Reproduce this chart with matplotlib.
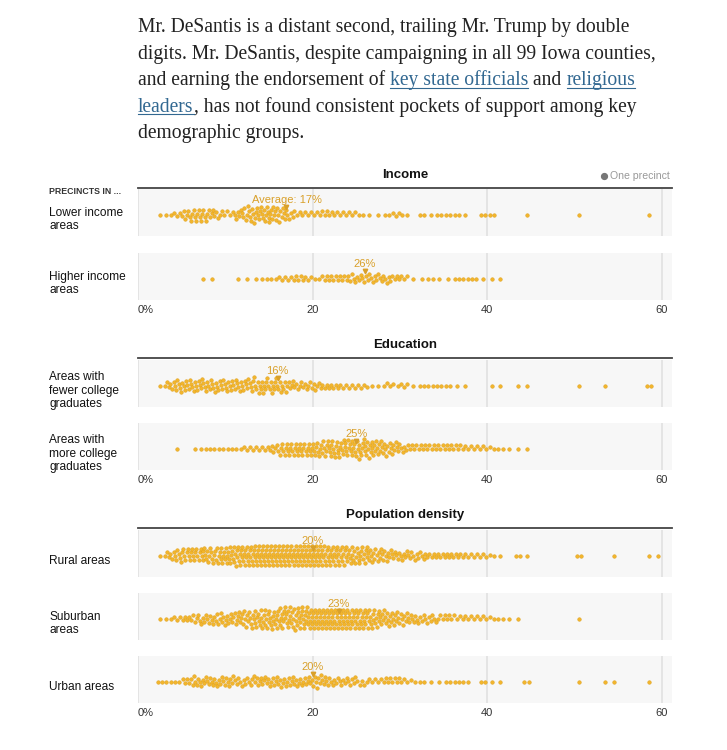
"""
DeSantis support by precinct, beeswarm per demographic group.
Each dot is one precinct; counts are per 1-point bin of DeSantis share.
"""

import matplotlib

matplotlib.use("Agg")
import matplotlib.pyplot as plt
import numpy as np
from matplotlib.lines import Line2D

W, H = 727, 750

# number of precincts in each 1% bin (index = floor of DeSantis share, 0..59)
lower_income_counts = [
    0, 0, 1, 2, 3, 6, 7, 7, 6, 4,
    3, 6, 8, 9, 9, 9, 8, 5, 3, 3,
    3, 4, 3, 3, 3, 2, 1, 1, 2, 3,
    2, 0, 2, 1, 2, 2, 2, 1, 0, 2,
    2, 0, 0, 0, 1, 0, 0, 0, 0, 0,
    1, 0, 0, 0, 0, 0, 0, 0, 1, 0]
higher_income_counts = [
    0, 0, 0, 0, 0, 0, 0, 1, 1, 0,
    0, 1, 1, 1, 2, 2, 3, 3, 4, 3,
    2, 4, 4, 4, 5, 5, 5, 5, 5, 4,
    3, 1, 1, 2, 1, 1, 2, 2, 2, 1,
    1, 1, 0, 0, 0, 0, 0, 0, 0, 0,
    0, 0, 0, 0, 0, 0, 0, 0, 0, 0]
fewer_college_counts = [
    0, 0, 1, 5, 7, 7, 7, 7, 7, 7,
    7, 7, 7, 8, 8, 8, 7, 6, 5, 5,
    5, 4, 4, 3, 3, 3, 2, 1, 3, 2,
    3, 1, 2, 2, 2, 2, 1, 1, 0, 0,
    1, 1, 0, 1, 1, 0, 0, 0, 0, 0,
    1, 0, 0, 1, 0, 0, 0, 0, 2, 0]
more_college_counts = [
    0, 0, 0, 0, 1, 0, 1, 2, 2, 2,
    2, 2, 3, 3, 3, 5, 7, 8, 8, 8,
    9, 9, 10, 10, 10, 10, 10, 9, 8, 7,
    5, 4, 4, 4, 4, 4, 4, 3, 3, 3,
    2, 2, 1, 1, 1, 0, 0, 0, 0, 0,
    0, 0, 0, 0, 0, 0, 0, 0, 0, 0]
rural_counts = [
    0, 0, 1, 5, 7, 8, 8, 9, 9, 10,
    11, 12, 12, 13, 13, 13, 13, 13, 13, 13,
    13, 12, 12, 11, 10, 10, 9, 8, 7, 6,
    6, 5, 5, 4, 4, 4, 4, 3, 3, 3,
    2, 1, 0, 2, 1, 0, 0, 0, 0, 0,
    2, 0, 0, 0, 1, 0, 0, 0, 1, 1]
suburban_counts = [
    0, 0, 1, 2, 3, 4, 5, 6, 6, 7,
    7, 8, 9, 10, 11, 11, 12, 12, 13, 13,
    13, 13, 13, 13, 12, 12, 11, 10, 9, 8,
    7, 6, 5, 5, 4, 4, 3, 3, 3, 3,
    2, 2, 1, 1, 0, 0, 0, 0, 0, 0,
    1, 0, 0, 0, 0, 0, 0, 0, 0, 0]
urban_counts = [
    0, 0, 2, 2, 2, 4, 6, 6, 6, 6,
    6, 5, 5, 6, 6, 6, 6, 6, 6, 6,
    7, 6, 5, 5, 5, 4, 3, 3, 4, 4,
    3, 2, 2, 1, 1, 2, 2, 2, 0, 2,
    1, 1, 0, 0, 2, 0, 0, 0, 0, 0,
    1, 0, 0, 1, 1, 0, 0, 0, 1, 0]

row_counts = [lower_income_counts, higher_income_counts, fewer_college_counts,
              more_college_counts, rural_counts, suburban_counts, urban_counts]
row_labels = ["Lower income\nareas", "Higher income\nareas",
              "Areas with\nfewer college\ngraduates",
              "Areas with\nmore college\ngraduates",
              "Rural areas", "Suburban\nareas", "Urban areas"]
row_avgs = [17, 26, 16, 25, 20, 23, 20]
avg_labels = ["Average: 17%", "26%", "16%", "25%", "20%", "23%", "20%"]

group_titles = ["Income", "Education", "Population density"]
tick_values = [0, 20, 40, 60]
tick_labels = ["0%", "20", "40", "60"]

paragraph = [
    [("Mr. DeSantis is a distant second, trailing Mr. Trump by double", False)],
    [("digits. Mr. DeSantis, despite campaigning in all 99 Iowa counties,", False)],
    [("and earning the endorsement of ", False), ("key state officials", True),
     (" and ", False), ("religious", True)],
    [("leaders", True), (", has not found consistent pockets of support among key", False)],
    [("demographic groups.", False)],
]

# layout, in pixels from the top-left corner
PANEL_X0, PANEL_X1 = 138, 672
PX_PER_PCT = 8.733
PANEL_H = 47
panel_tops = [189, 253, 360, 423, 530, 593, 656]
group_lines = [188, 358, 528]
group_title_y = [175, 345, 515]
tick_y = [310, 480, 713]

DOT = "#f2b52c"
DOT_EDGE = "#dc9d14"
GOLD_TEXT = "#d9a02a"
INK = "#333333"
LINK = "#326891"
SANS = ["Liberation Sans", "DejaVu Sans"]


def fx(x):
    return x / W


def fy(y):
    return 1 - y / H


def swarm(xs, d):
    """Place dots sorted by x at the smallest |y| that does not overlap."""
    placed_x, placed_y = [], []
    ys = []
    for x in xs:
        near = [(px, py) for px, py in zip(placed_x, placed_y) if abs(px - x) < d]
        cands = [0.0]
        for px, py in near:
            dy = np.sqrt(d * d - (px - x) ** 2)
            cands += [py + dy, py - dy]
        cands.sort(key=abs)
        y = 0.0
        for c in cands:
            if all((px - x) ** 2 + (py - c) ** 2 >= d * d - 1e-6 for px, py in near):
                y = c
                break
        placed_x.append(x)
        placed_y.append(y)
        ys.append(y)
    return np.array(ys)


fig = plt.figure(figsize=(W / 100, H / 100), dpi=100)
renderer = fig.canvas.get_renderer()

# paragraph text, fitted to the reference line width
probe = fig.text(0, 0, paragraph[1][0][0], family="Liberation Serif", fontsize=12.5)
fs = 12.5 * 518 / probe.get_window_extent(renderer).width
probe.remove()


def text_width(s):
    t = fig.text(0, 0, s + ".", family="Liberation Serif", fontsize=fs)
    dot = fig.text(0, 0, ".", family="Liberation Serif", fontsize=fs)
    w = t.get_window_extent(renderer).width - dot.get_window_extent(renderer).width
    t.remove()
    dot.remove()
    return w


baselines = [32, 58.6, 85.2, 111.8, 138.4]
for line, base in zip(paragraph, baselines):
    prefix = ""
    for piece, is_link in line:
        x0 = PANEL_X0 + text_width(prefix) if prefix else PANEL_X0
        fig.text(fx(x0), fy(base), piece, family="Liberation Serif", fontsize=fs,
                 color=LINK if is_link else "#222222", va="baseline", ha="left")
        if is_link:
            x1 = PANEL_X0 + text_width(prefix + piece)
            fig.add_artist(Line2D([fx(x0), fx(x1)], [fy(base + 2.5), fy(base + 2.5)],
                                  color=LINK, lw=0.8))
        prefix += piece

# group headers
for title, ly, ty in zip(group_titles, group_lines, group_title_y):
    fig.text(fx((PANEL_X0 + PANEL_X1) / 2), fy(ty), title, family=SANS,
             fontsize=9.5, fontweight="bold", color="#121212", ha="center", va="center")
    fig.add_artist(Line2D([fx(PANEL_X0), fx(PANEL_X1)], [fy(ly), fy(ly)],
                          color="#444444", lw=1.3))

fig.text(fx(49), fy(192), "PRECINCTS IN ...", family=SANS, fontsize=6.3,
         fontweight="bold", color=INK, ha="left", va="center")
fig.add_artist(Line2D([fx(603.5)], [fy(176)], marker="o", markersize=4.2,
                      color="#777777", lw=0))
fig.text(fx(609.5), fy(176), "One precinct", family=SANS, fontsize=7.6,
         color="#999999", ha="left", va="center")

xmax = (PANEL_X1 - PANEL_X0) / PX_PER_PCT
for counts, label, avg, avg_text, top in zip(row_counts, row_labels, row_avgs,
                                              avg_labels, panel_tops):
    ax = fig.add_axes([fx(PANEL_X0), fy(top + PANEL_H), (PANEL_X1 - PANEL_X0) / W,
                       PANEL_H / H])
    ax.set_facecolor("#f7f7f7")
    ax.set_xlim(0, xmax)
    ax.set_ylim(-PANEL_H / 2, PANEL_H / 2)
    for s in ax.spines.values():
        s.set_visible(False)
    ax.set_xticks([])
    ax.set_yticks([])
    for v in tick_values:
        ax.axvline(v, color="#e2e2e2", lw=1.3, zorder=0)

    values = []
    for b, n in enumerate(counts):
        values += [b + (k + 0.5) / n for k in range(n)]
    values = np.array(values)
    ys = swarm(values * PX_PER_PCT, 4.0)
    yc = -2
    ax.scatter(values, ys + yc, s=6.8, color=DOT, edgecolor=DOT_EDGE, lw=0.3, zorder=2)
    ax.plot([avg], [yc + 7.5], marker="v", markersize=3.2, color=GOLD_TEXT, zorder=3)
    ax.text(avg, yc + 14.5, avg_text, family=SANS, fontsize=8,
            color=GOLD_TEXT, ha="center", va="center", zorder=3)

    fig.text(fx(49), fy(top + PANEL_H / 2 + 7), label, family=SANS, fontsize=8.6,
             color="#121212", ha="left", va="center", linespacing=1.15)

for ty in tick_y:
    for v, lab in zip(tick_values, tick_labels):
        x = PANEL_X0 + v * PX_PER_PCT
        fig.text(fx(x), fy(ty), lab, family=SANS, fontsize=8, color=INK,
                 ha="left" if v == 0 else "center", va="center")

fig.savefig("out.png", dpi=100)
plt.close(fig)
